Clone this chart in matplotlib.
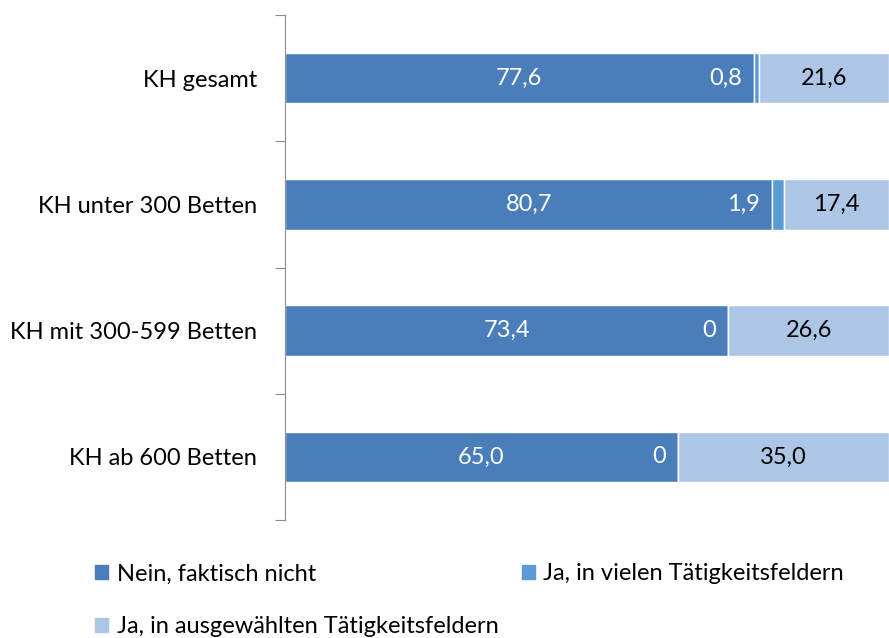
import matplotlib.pyplot as plt
from matplotlib.patches import Patch

# Daten
kategorien = ['KH gesamt', 'KH unter 300 Betten', 'KH mit 300-599 Betten', 'KH ab 600 Betten']
nein = [77.6, 80.7, 73.4, 65.0]
ja_viele = [0.8, 1.9, 0.0, 0.0]
ja_ausgewaehlt = [21.6, 17.4, 26.6, 35.0]
namen = ['Nein, faktisch nicht', 'Ja, in vielen Tätigkeitsfeldern', 'Ja, in ausgewählten Tätigkeitsfeldern']

farben = ['#4A7EBB', '#5B9BD5', '#AEC6E6']

plt.rcParams['font.family'] = ['Lato', 'DejaVu Sans']

fig = plt.figure(figsize=(8.89, 6.38), dpi=100)
ax = fig.add_axes([285/889, 1-520/638, 604/889, 505/638])

y = list(range(len(kategorien)))
hoehe = 0.4
ax.barh(y, nein, height=hoehe, color=farben[0], edgecolor='white', linewidth=1)
ax.barh(y, ja_viele, left=nein, height=hoehe, color=farben[1], edgecolor='white', linewidth=1)
links3 = [a + b for a, b in zip(nein, ja_viele)]
ax.barh(y, ja_ausgewaehlt, left=links3, height=hoehe, color=farben[2], edgecolor='white', linewidth=1)

def fmt(v):
    if v == 0:
        return '0'
    return f'{v:.1f}'.replace('.', ',')

fs = 17
for i in y:
    ax.text(nein[i] / 2, i, fmt(nein[i]), ha='center', va='center', color='white', fontsize=fs)
    ax.text(nein[i] - 2, i, fmt(ja_viele[i]), ha='right', va='center', color='white', fontsize=fs)
    ax.text(links3[i] + ja_ausgewaehlt[i] / 2, i, fmt(ja_ausgewaehlt[i]), ha='center', va='center',
            color='black', fontsize=fs)

ax.set_xlim(0, 100)
ax.set_ylim(len(kategorien) - 0.5, -0.5)
ax.set_xticks([])
for s in ['top', 'right', 'bottom']:
    ax.spines[s].set_visible(False)
ax.spines['left'].set_color('#8C8C8C')
ax.set_yticks([i - 0.5 for i in range(len(kategorien) + 1)])
ax.set_yticklabels([])
ax.tick_params(axis='y', which='major', length=7, color='#8C8C8C')
ax.set_yticks(y, minor=True)
ax.set_yticklabels(kategorien, minor=True, fontsize=fs)
ax.tick_params(axis='y', which='minor', length=0, pad=20)

handles = [Patch(color=farben[0]), Patch(color=farben[2]), Patch(color=farben[1])]
labels = [namen[0], namen[2], namen[1]]
fig.legend(handles, labels, ncol=2, loc='upper left', bbox_to_anchor=(86/889, 1-554/638),
           frameon=False, fontsize=fs, handlelength=0.55, handleheight=0.55, handletextpad=0.35,
           labelspacing=1.35, columnspacing=1.0, borderaxespad=0)

fig.savefig('out.png', dpi=100)
